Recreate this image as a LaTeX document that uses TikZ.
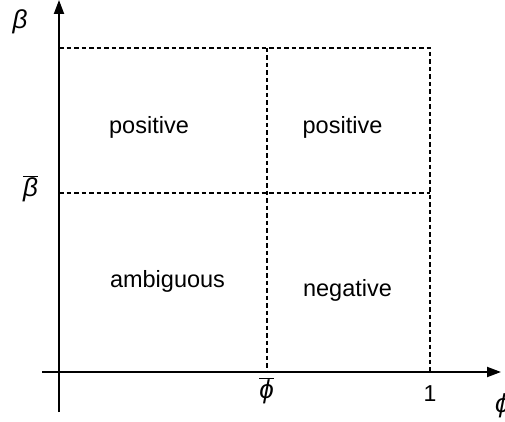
\documentclass[tikz,border=0pt]{standalone}
\usepackage{fontspec}
\setmainfont{Liberation Sans}
\usetikzlibrary{arrows.meta}
\tikzset{
  axis/.style={line width=2pt,-{Triangle[length=14pt,width=10pt]}},
  grid/.style={line width=1.4pt,dash pattern=on 4.5pt off 3pt},
  region/.style={font=\fontsize{23.5}{26}\selectfont,anchor=base,inner sep=0pt},
  sym/.style={font=\fontsize{26}{28}\selectfont\itshape,anchor=base,inner sep=0pt},
  tick/.style={font=\fontsize{23}{25}\selectfont,anchor=base,inner sep=0pt}
}
\begin{document}
\begin{tikzpicture}[x=1pt,y=-1pt]
\useasboundingbox (0,0) rectangle (505,422);
% corners
\coordinate (xs) at (42,372);
\coordinate (xe) at (501,372);
\coordinate (ys) at (59,412);
\coordinate (ye) at (59,0);
\coordinate (tl) at (59,48);
\coordinate (tm) at (267,48);
\coordinate (tr) at (430,48);
\coordinate (ml) at (59,193);
\coordinate (mr) at (430,193);
\coordinate (bm) at (267,372);
\coordinate (br) at (430,372);
% dashed grid
\draw[grid] (tl) -- (tr) -- (br);
\draw[grid] (tm) -- (bm);
\draw[grid] (ml) -- (mr);
% axes
\draw[axis] (xs) -- (xe);
\draw[axis] (ys) -- (ye);
% labels
\node[region] (p1) at (149,134) {positive};
\node[region] (p2) at (342.5,134) {positive};
\node[region] (am) at (167.5,287) {ambiguous};
\node[region] (ng) at (347.5,296) {negative};
\node[sym] (b) at (20,29) {β};
\node[sym] (bb) at (30.5,196) {$\overline{\mbox{\itshape β}}$};
\node[sym] (pb) at (266.5,398) {$\overline{\mbox{\itshape ϕ}}$};
\node[tick] (one) at (430,401) {1};
\node[sym,anchor=base west] (p) at (495,412) {ϕ};
\end{tikzpicture}
\end{document}
